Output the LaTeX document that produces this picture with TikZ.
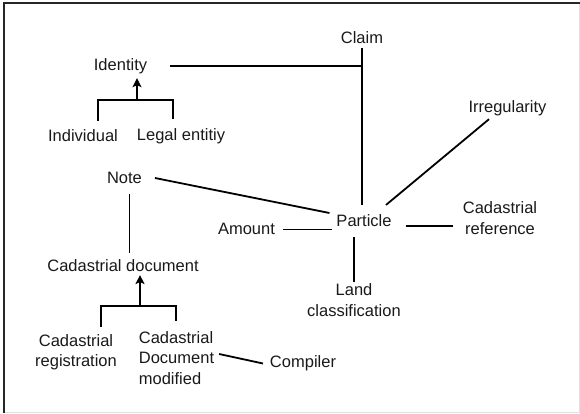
\documentclass[tikz,border=0pt]{standalone}
\usepackage{fontspec}
\setmainfont{Liberation Sans}
\usetikzlibrary{arrows.meta}
\begin{document}
\begin{tikzpicture}[x=1pt,y=-1pt,
  every node/.style={inner sep=0pt, outer sep=0pt,
    font=\fontsize{16.5}{20.5}\selectfont, text=black!90, align=center},
  link/.style={line width=1.8pt},
  bracket/.style={line width=2.2pt},
  isa/.style={line width=2.4pt, -{Stealth[length=9pt,width=9pt,inset=2pt]}}]
\useasboundingbox (0,0) rectangle (580,414);

% frame
\draw[black!12, line width=1.2pt] (4,412.5) -- (579.5,412.5) -- (579.5,3);
\draw[black!85, line width=1.6pt] (4,412.5) -- (4,3) -- (579.5,3);

% concepts
\node (Identity)  at (120.5,66)  {Identity};
\node (Claim)     at (362,38)    {Claim};
\node (Irreg)     at (507.5,108) {Irregularity};
\node (Individual) at (83,136)   {Individual};
\node (Legal)     at (181,136)   {Legal entitiy};
\node (Note)      at (124.5,178) {Note};
\node (Particle)  at (364,221)   {Particle};
\node (Amount)    at (246.5,228.5) {Amount};
\node (CadRef)    at (500,218)   {Cadastrial\\reference};
\node (CadDoc)    at (123,266)   {Cadastrial document};
\node (Land)      at (354,300)   {Land\\classification};
\node (CadReg)    at (76,352)    {Cadastrial\\registration};
\node[align=left] (CadMod) at (176.5,358) {Cadastrial\\Document\\modified};
\node (Compiler)  at (303,363.5) {Compiler};

% junctions of the generalisation brackets
\coordinate (idj) at (137,100);
\coordinate (cdj) at (140,306);

% associations
\draw[link, shorten <=23pt] (Identity.east) -- (Identity.east -| Claim.south);
\draw[link, shorten <=4pt, shorten >=10pt] (Claim.south) -- (Claim.south |- Particle.north);
\draw[link] ([xshift=-18.5pt,yshift=-3.5pt]Irreg.south) -- ([xshift=22pt,yshift=10pt]Particle.north);
\draw[link] ([xshift=13pt]Note.east) -- ([xshift=-7pt,yshift=8pt]Particle.west);
\draw[link, shorten <=8pt, shorten >=4pt] ([yshift=-1pt]Amount.east) -- ([yshift=-1pt]Amount.east -| Particle.west);
\draw[link] ([xshift=14pt,yshift=-5pt]Particle.east) -- ([xshift=-10pt,yshift=-8pt]CadRef.west);
\draw[link, shorten <=10pt, shorten >=2pt] (Particle.south -| Land.north) -- (Land.north);
\draw[link, shorten <=10pt, shorten >=7pt] ([xshift=5pt]Note.south) -- ([xshift=5pt]Note.south |- CadDoc.north);
\draw[link] ([xshift=5pt,yshift=4pt]CadMod.east) -- ([xshift=-7pt]Compiler.west);

% generalisations
\draw[bracket] ([xshift=15pt,yshift=9pt]Individual.north) |- (idj) -| ([xshift=-8pt,yshift=9pt]Legal.north);
\draw[isa, shorten >=4.5pt] (idj) -- (idj |- Identity.south);
\draw[bracket] ([xshift=25pt,yshift=7pt]CadReg.north) |- (cdj) -| ([xshift=-0.5pt,yshift=10pt]CadMod.north);
\draw[isa, shorten >=3pt] (cdj) -- (cdj |- CadDoc.south);
\end{tikzpicture}
\end{document}
